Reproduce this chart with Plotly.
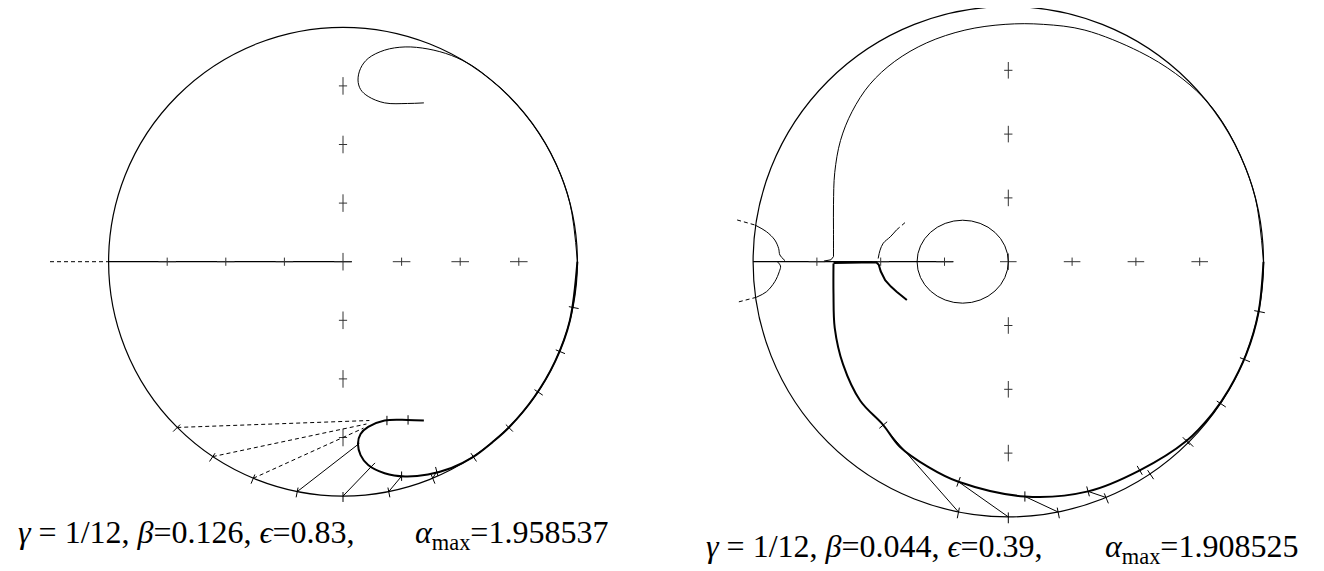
import numpy as np
import plotly.graph_objects as go

# ---------------- left panel: gamma=1/12, beta=0.126, eps=0.83 ----------------
L_RADIUS = 4.0
L_AXIS_SOLID = [-4.0, 0.15]
L_AXIS_DASH = [-5.0, -4.0]
L_CROSS = [-3, -2, -1, 1, 2, 3]

# upper hook (thin); the lower one is its mirror image (thick)
L_HOOK_X = [1.38, 1.10, 0.71, 0.43, 0.30, 0.256, 0.30, 0.43, 0.71, 1.06, 1.45, 1.85,
            2.21, 2.55, 2.83, 3.27, 3.62, 3.87, 4.0]
L_HOOK_Y = [2.71, 2.70, 2.71, 2.82, 2.94, 3.10, 3.30, 3.47, 3.61, 3.665, 3.63, 3.52,
            3.34, 3.08, 2.83, 2.30, 1.70, 1.01, 0.0]

L_TICK_DEG = [-11.25, -22.5, -33.75, -45, -56.25, -67.5, -78.75, -90, -101.25,
              -112.5, -123.75, -135]

L_DASH_FROM_DEG = [-135, -123.75, -112.5]
L_DASH_TO_X = [0.45, 0.40, 0.35]
L_DASH_TO_Y = [-2.71, -2.77, -2.84]

L_RAY_FROM_DEG = [-101.25, -90, -78.75, -67.5]
L_RAY_TO_X = [0.28, 0.49, 1.00, 1.60]
L_RAY_TO_Y = [-3.10, -3.49, -3.66, -3.58]

L_HTICK_X = [0.75, 1.11, 0.49, 1.00, 1.60]
L_HTICK_Y = [-2.71, -2.70, -3.49, -3.66, -3.58]
L_HTICK_DEG = [90, 90, -135, -90, -75]

# ---------------- right panel: gamma=1/12, beta=0.044, eps=0.39 ----------------
R_RADIUS = 4.0
R_AXIS_SOLID = [-4.0, -0.86]
R_CROSS = [-3, -2, -1, 1, 2, 3]
R_LOOP_X = [-1.43, 0.0]
R_LOOP_Y = [-0.65, 0.65]

R_BRK_UP_X = [-3.97, -3.79, -3.66, -3.60, -3.58, -3.50]
R_BRK_UP_Y = [0.575, 0.47, 0.34, 0.209, 0.105, 0.016]
R_BRK_UP_DX = [-4.25, -3.97]
R_BRK_UP_DY = [0.654, 0.575]
R_BRK_LO_X = [-3.62, -3.57, -3.59, -3.66, -3.79, -3.95]
R_BRK_LO_Y = [0.0, -0.067, -0.157, -0.313, -0.47, -0.558]
R_BRK_LO_DX = [-3.95, -4.25]
R_BRK_LO_DY = [-0.558, -0.636]

R_ARC_UP_X = [-2.04, -2.01, -1.96, -1.85, -1.75]
R_ARC_UP_Y = [0.05, 0.18, 0.29, 0.39, 0.50]
R_ARC_UP_DX = [-1.75, -1.61]
R_ARC_UP_DY = [0.50, 0.62]
R_ARC_LO_X = [-2.74, -2.07, -2.03, -2.00, -1.93, -1.84, -1.75, -1.59]
R_ARC_LO_Y = [-0.02, -0.01, -0.05, -0.15, -0.29, -0.39, -0.47, -0.60]

R_JOG_X = [-2.89, -2.78, -2.74]
R_JOG_Y = [0.01, 0.03, 0.08]

R_TOP_X = [-2.74, -2.74, -2.74, -2.72, -2.63, -2.45, -2.17, -1.78, -1.28, -0.68, -0.05,
           0.55, 1.20, 2.06, 2.62, 3.05, 3.35, 3.62, 3.87, 4.0]
R_TOP_Y = [0.08, 0.5, 0.9, 1.4, 1.9, 2.35, 2.78, 3.14, 3.43, 3.63, 3.72,
           3.72, 3.63, 3.29, 2.95, 2.58, 2.20, 1.70, 1.01, 0.0]

R_BOT_X = [-2.74, -2.74, -2.72, -2.59, -2.32, -1.96, -1.70, -1.25, -0.78, 0.26, 1.25,
           2.06, 2.79, 3.20, 3.46, 3.73, 3.92, 4.0]
R_BOT_Y = [-0.03, -0.5, -1.04, -1.61, -2.18, -2.56, -2.90, -3.22, -3.45, -3.68, -3.60,
           -3.27, -2.81, -2.38, -2.0, -1.45, -0.80, 0.0]

R_TICK_DEG = [-11.25, -22.5, -33.75, -45, -56.25, -67.5, -78.75, -90, -101.25]

R_ITICK_X = [-1.96, -0.78, 0.26, 1.25, 2.06, 2.79]
R_ITICK_Y = [-2.56, -3.45, -3.68, -3.60, -3.27, -2.81]
R_ITICK_DEG = [-140, -110, -90, -75, -60, -47]

R_RAY_FROM_X = [-1.83, -0.78, 0.26, 1.25]
R_RAY_FROM_Y = [-2.73, -3.45, -3.68, -3.60]
R_RAY_TO_DEG = [-101.25, -90, -78.75, -67.5]

LABEL_L = ["<i>γ</i> = 1/12, <i>β</i>=0.126, <i>ϵ</i>=0.83,",
           "<i>α</i><sub>max</sub>=1.958537"]
LABEL_R = ["<i>γ</i> = 1/12, <i>β</i>=0.044, <i>ϵ</i>=0.39,",
           "<i>α</i><sub>max</sub>=1.908525"]

W, H = 1324, 571
OFF = 8  # the page body margin shifts the plot by this many px
FONT = "Liberation Serif"


def segs(pairs):
    xs, ys = [], []
    for (x0, y0), (x1, y1) in pairs:
        xs += [x0, x1, None]
        ys += [y0, y1, None]
    return xs, ys


def on_circle(r, deg):
    a = np.radians(deg)
    return r * np.cos(a), r * np.sin(a)


def crosses(vals, long_, short):
    p = []
    for v in vals:  # on vertical axis
        p += [((0, v - long_), (0, v + long_)), ((-short, v), (short, v))]
    for v in vals:  # on horizontal axis
        p += [((v - long_, 0), (v + long_, 0)), ((v, -short), (v, short))]
    p += [((0, -long_), (0, long_)), ((-long_, 0), (long_, 0))]
    return segs(p)


def circle_ticks(r, degs, r0, r1):
    return segs([(on_circle(r0, d), on_circle(r1, d)) for d in degs])


def point_ticks(xs, ys, degs, half):
    p = []
    for x, y, d in zip(xs, ys, degs):
        dx, dy = on_circle(half, d)
        p.append(((x - dx, y - dy), (x + dx, y + dy)))
    return segs(p)


fig = go.Figure()


def line(x, y, ax, width=1.0, dash="solid", shape="linear", color="black"):
    fig.add_trace(go.Scatter(x=x, y=y, mode="lines", xaxis="x" + ax, yaxis="y" + ax,
                             line=dict(color=color, width=width, dash=dash, shape=shape),
                             hoverinfo="skip", showlegend=False))


DASH = "4px,3px"

# ---- left
line(L_AXIS_SOLID, [0, 0], "", 1.2)
line(L_AXIS_DASH, [0, 0], "", 1.0, DASH)
cx, cy = crosses(L_CROSS, 0.15, 0.07)
line(cx, cy, "", 1.0, color="#333")
line(L_HOOK_X, L_HOOK_Y, "", 1.0, shape="spline")
line(L_HOOK_X, [-v for v in L_HOOK_Y], "", 2.0, shape="spline")
tx, ty = circle_ticks(L_RADIUS, L_TICK_DEG, 3.93, 4.10)
line(tx, ty, "", 1.0)
tx, ty = point_ticks(L_HTICK_X, L_HTICK_Y, L_HTICK_DEG, 0.08)
line(tx, ty, "", 1.0)
dx, dy = segs([(on_circle(L_RADIUS, d), (x, y))
               for d, x, y in zip(L_DASH_FROM_DEG, L_DASH_TO_X, L_DASH_TO_Y)])
line(dx, dy, "", 1.0, DASH)
rx, ry = segs([(on_circle(L_RADIUS, d), (x, y))
               for d, x, y in zip(L_RAY_FROM_DEG, L_RAY_TO_X, L_RAY_TO_Y)])
line(rx, ry, "", 1.0)

# ---- right
line(R_AXIS_SOLID, [0, 0], "2", 1.2)
cx, cy = crosses(R_CROSS, 0.13, 0.065)
line(cx, cy, "2", 1.0, color="#333")
line(R_BRK_UP_X, R_BRK_UP_Y, "2", 1.0, shape="spline")
line(R_BRK_UP_DX, R_BRK_UP_DY, "2", 1.0, DASH)
line(R_BRK_LO_X, R_BRK_LO_Y, "2", 1.0, shape="spline")
line(R_BRK_LO_DX, R_BRK_LO_DY, "2", 1.0, DASH)
line(R_ARC_UP_X, R_ARC_UP_Y, "2", 1.0, shape="spline")
line(R_ARC_UP_DX, R_ARC_UP_DY, "2", 1.0, DASH)
line(R_ARC_LO_X, R_ARC_LO_Y, "2", 2.0)
line(R_JOG_X, R_JOG_Y, "2", 1.0)
line(R_TOP_X, R_TOP_Y, "2", 1.0, shape="spline")
line(R_BOT_X, R_BOT_Y, "2", 2.0, shape="spline")
tx, ty = circle_ticks(R_RADIUS, R_TICK_DEG, 3.93, 4.10)
line(tx, ty, "2", 1.0)
tx, ty = point_ticks(R_ITICK_X, R_ITICK_Y, R_ITICK_DEG, 0.08)
line(tx, ty, "2", 1.0)
rx, ry = segs([((x, y), on_circle(R_RADIUS, d))
               for x, y, d in zip(R_RAY_FROM_X, R_RAY_FROM_Y, R_RAY_TO_DEG)])
line(rx, ry, "2", 1.0)

shapes = [
    dict(type="circle", xref="x", yref="y", x0=-L_RADIUS, x1=L_RADIUS, y0=-L_RADIUS,
         y1=L_RADIUS, line=dict(color="black", width=1.2)),
    dict(type="circle", xref="x2", yref="y2", x0=-R_RADIUS, x1=R_RADIUS, y0=-R_RADIUS,
         y1=R_RADIUS, line=dict(color="black", width=1.2)),
    dict(type="circle", xref="x2", yref="y2", x0=R_LOOP_X[0], x1=R_LOOP_X[1],
         y0=R_LOOP_Y[0], y1=R_LOOP_Y[1], line=dict(color="black", width=1.0)),
]

# pixel placement of the two panels (origin in page px, px per unit)
LO, LU = (343.0 - OFF, 261.7 - OFF), 58.6
RO, RU = (1008.3 - OFF, 261.7 - OFF), 63.8
ax_off = dict(visible=False, showgrid=False, zeroline=False, fixedrange=True)


def label(text, px, py, anchor):
    return dict(text=text, xref="paper", yref="paper", x=(px - OFF) / W,
                y=1 - (py - OFF) / H, xanchor=anchor, yanchor="middle",
                showarrow=False, font=dict(family=FONT, size=32, color="black"))


fig.update_layout(
    width=W, height=H, margin=dict(l=0, r=0, t=0, b=0),
    paper_bgcolor="white", plot_bgcolor="white", showlegend=False,
    xaxis=dict(domain=[0, 0.5], range=[-LO[0] / LU, (W / 2 - LO[0]) / LU], **ax_off),
    yaxis=dict(domain=[0, 1], range=[-(H - LO[1]) / LU, LO[1] / LU], **ax_off),
    xaxis2=dict(domain=[0.5, 1], range=[(W / 2 - RO[0]) / RU, (W - RO[0]) / RU],
                anchor="y2", **ax_off),
    yaxis2=dict(domain=[0, 1], range=[-(H - RO[1]) / RU, RO[1] / RU], anchor="x2",
                **ax_off),
    shapes=shapes,
    annotations=[
        label(LABEL_L[0], 16, 532, "left"),
        label(LABEL_L[1], 610, 534, "right"),
        label(LABEL_R[0], 704, 546, "left"),
        label(LABEL_R[1], 1300, 548, "right"),
    ],
)

fig.write_html("out.html")
